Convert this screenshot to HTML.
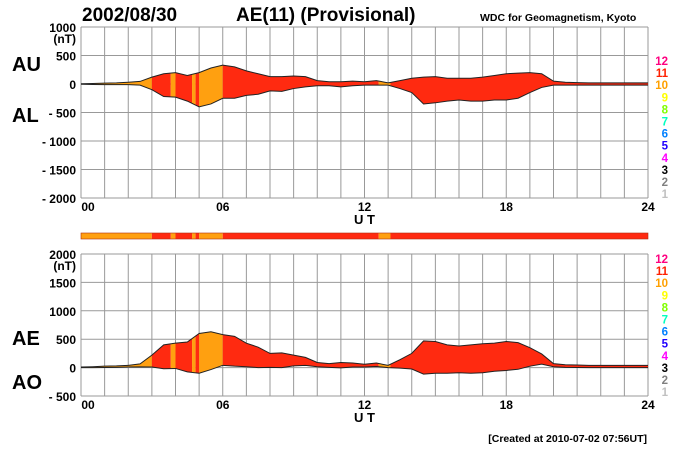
<!DOCTYPE html>
<html><head><meta charset="utf-8"><style>
html,body{margin:0;padding:0;background:#fff;}
svg{display:block;font-family:"Liberation Sans",Arial,sans-serif;font-weight:bold;}
</style></head><body>
<svg id="chart" width="700" height="450" viewBox="0 0 700 450">
<text x="82" y="21" font-size="19">2002/08/30</text>
<text x="236" y="21" font-size="19">AE(11) (Provisional)</text>
<text x="480" y="21" font-size="10.5">WDC for Geomagnetism, Kyoto</text>
<text x="12" y="71" font-size="20">AU</text>
<text x="12" y="122" font-size="20">AL</text>
<text x="12" y="345" font-size="20">AE</text>
<text x="12" y="389" font-size="20">AO</text>
<text x="354" y="224" font-size="13">U T</text>
<text x="354" y="422" font-size="13">U T</text>
<text x="647" y="442" font-size="10.5" text-anchor="end">[Created at 2010-07-02 07:56UT]</text>
<g id="layer"></g>
</svg>
<script>
const hours = [0,0.5,1,1.5,2,2.5,3,3.5,4,4.5,5,5.5,6,6.5,7,7.5,8,8.5,9,9.5,10,10.5,11,11.5,12,12.5,13,13.5,14,14.5,15,15.5,16,16.5,17,17.5,18,18.5,19,19.5,20,20.5,21,21.5,22,22.5,23,23.5,24];
const auValues = [5,8,15,20,30,45,120,180,200,150,200,280,330,300,230,180,130,130,140,130,60,40,40,50,40,60,20,60,100,120,130,100,100,100,120,150,180,190,200,180,50,30,25,20,20,20,20,20,20];
const alValues = [-5,-8,-10,-10,-10,-20,-100,-220,-230,-300,-400,-350,-250,-250,-200,-180,-120,-130,-80,-50,-30,-30,-50,-30,-20,-20,-20,-80,-150,-350,-330,-300,-280,-300,-300,-280,-280,-250,-150,-60,-20,-20,-20,-20,-20,-20,-20,-20,-20];
const stationStarts = [0,3,3.8,4.0,4.7,4.85,5.0,6.0,12.6,13.1];
const stationEnds = [3,3.8,4.0,4.7,4.85,5.0,6.0,12.6,13.1,24];
const stationCounts = [10,11,10,11,10,11,10,11,10,11];
const topTicks = [1000,500,0,-500,-1000,-1500,-2000];
const topTickLabels = ["1000","500","0","- 500","- 1000","- 1500","- 2000"];
const botTicks = [2000,1500,1000,500,0,-500];
const botTickLabels = ["2000","1500","1000","500","0","- 500"];
const xTicks = [0,6,12,18,24];
const xTickLabels = ["00","06","12","18","24"];
const legendNums = [12,11,10,9,8,7,6,5,4,3,2,1];
const legendColors = ["#ff0080","#ff2000","#ffa000","#ffff00","#80ff00","#00ffc0","#0080ff","#2000ff","#ff00ff","#000000","#808080","#c0c0c0"];

const NS="http://www.w3.org/2000/svg";
const layer=document.getElementById('layer');
function mk(tag,attrs,parent){const e=document.createElementNS(NS,tag);for(const k in attrs)e.setAttribute(k,attrs[k]);(parent||layer).appendChild(e);return e;}
const X0=81,X1=648;
const xs=h=>X0+(X1-X0)*h/24;
const fill={10:"#ffa010",11:"#ff2a10"};
const aeValues=auValues.map((u,i)=>u-alValues[i]);
const aoValues=auValues.map((u,i)=>(u+alValues[i])/2);

function panel(id,yTop,yBot,vMax,vMin,ticks,labels,upper,lower,legTop){
  const ys=v=>yTop+(vMax-v)*(yBot-yTop)/(vMax-vMin);
  for(let h=0;h<=24;h++){const l=mk('line',{x1:xs(h),x2:xs(h),y1:yTop,y2:yBot,stroke:'#999','stroke-width':1});
  }
  ticks.forEach((t,i)=>{const l=mk('line',{x1:X0,x2:X1,y1:ys(t),y2:ys(t),stroke:'#999','stroke-width':1});
    
    const tx=mk('text',{x:76,y:ys(t)+5,'font-size':12,'text-anchor':'end'});tx.textContent=labels[i];
    });
  const nt=mk('text',{x:76,y:ys(ticks[0])+16,'font-size':12,'text-anchor':'end'});nt.textContent='(nT)';
  
  xTicks.forEach((t,i)=>{const tx=mk('text',{x:xs(t)+(i==0?7:0),y:yBot+13,'font-size':12,'text-anchor':'middle'});tx.textContent=xTickLabels[i];
    });
  let pts=hours.map((h,i)=>xs(h)+','+ys(upper[i]));
  pts=pts.concat(hours.map((h,i)=>xs(h)+','+ys(lower[i])).reverse());
  stationStarts.forEach((s,i)=>{
    const cid=id+'-clip'+i;const cp=mk('clipPath',{id:cid});
    mk('rect',{x:xs(s),y:yTop,width:xs(stationEnds[i])-xs(s),height:yBot-yTop},cp);
    const p=mk('polygon',{points:pts.join(' '),fill:fill[stationCounts[i]],'clip-path':'url(#'+cid+')'});
    
  });
  const up=mk('polyline',{points:hours.map((h,i)=>xs(h)+','+ys(upper[i])).join(' '),fill:'none',stroke:'#222','stroke-width':1});
  
  const lo=mk('polyline',{points:hours.map((h,i)=>xs(h)+','+ys(lower[i])).join(' '),fill:'none',stroke:'#222','stroke-width':1});
  
  legendNums.forEach((n,i)=>{const tx=mk('text',{x:668,y:legTop+i*12.1,'font-size':11.5,'text-anchor':'end',fill:legendColors[i]});tx.textContent=n;
    });
}
panel('top',27,198,1000,-2000,topTicks,topTickLabels,auValues,alValues,65);
panel('bottom',254,396,2000,-500,botTicks,botTickLabels,aeValues,aoValues,263);
stationStarts.forEach((s,i)=>{const r=mk('rect',{x:xs(s),y:233,width:xs(stationEnds[i])-xs(s),height:6,fill:fill[stationCounts[i]]});
  });
const bb=mk('rect',{x:X0,y:233,width:X1-X0,height:6,fill:'none',stroke:'#b03010','stroke-width':0.6});

</script>
</body></html>
